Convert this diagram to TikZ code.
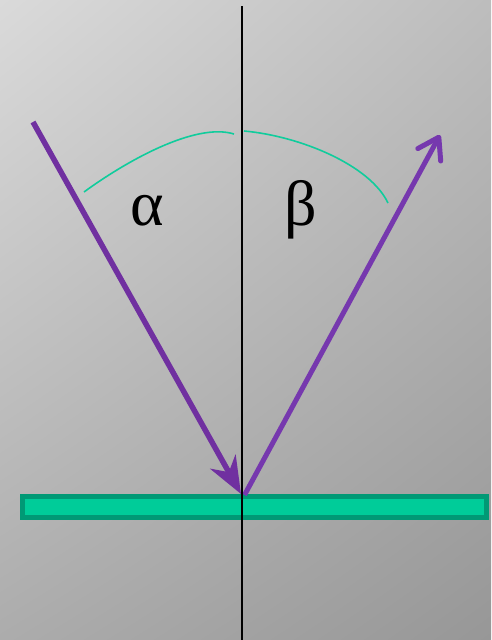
\documentclass[tikz,border=0pt]{standalone}
\usepackage{fontspec}
\setmainfont{Liberation Serif}
\usetikzlibrary{arrows.meta,shadings}
\definecolor{ray}{HTML}{7030A0}
\definecolor{rayb}{HTML}{7638AE}
\definecolor{arcc}{HTML}{10CC9C}
\definecolor{mfill}{HTML}{00CC99}
\definecolor{mdraw}{HTML}{009975}
\definecolor{bgul}{HTML}{DADADA}
\definecolor{bgur}{HTML}{BDBDBD}
\definecolor{bgll}{HTML}{ACACAC}
\definecolor{bglr}{HTML}{979797}
\tikzset{
  incoming/.style={draw=ray, line width=5.5pt, -{Stealth[length=37pt,width=29pt,inset=12pt]}},
  reflected/.style={draw=rayb, line width=5pt, -{Straight Barb[length=20pt,width=26pt,round]}},
  anglearc/.style={draw=arcc, line width=1.6pt},
  mirror/.style={draw=mdraw, fill=mfill, line width=5pt},
  normalline/.style={draw=black, line width=2pt},
  greek/.style={font=\fontsize{64}{64}\selectfont, inner sep=0pt, anchor=base}
}
\begin{document}
\begin{tikzpicture}[x=1pt,y=-1pt]
\useasboundingbox (0,0) rectangle (491,640);
\shade[upper left=bgul, upper right=bgur, lower left=bgll, lower right=bglr] (0,0) rectangle (491,640);
\coordinate (top) at (241.5,6);
\coordinate (bot) at (241.5,640);
\coordinate (A) at (33,122);
\coordinate (O) at (241,494);
\coordinate (Ostart) at (244.5,495);
\coordinate (B) at (440,135);
\coordinate (a1) at (84,192);
\coordinate (a2) at (234,134);
\coordinate (b1) at (244,131);
\coordinate (b2) at (388,203);
\draw[mirror] (22,496.5) rectangle (486,517.5);
\draw[anglearc] (a1) .. controls (125,162) and (195,122) .. (a2);
\draw[anglearc] (b1) .. controls (300,136) and (370,165) .. (b2);
\draw[reflected] (Ostart) -- (B);
\draw[incoming] (A) -- (O);
\draw[normalline] (top) -- (bot);
\node[greek] (alpha) at (147.5,225) {α};
\node[greek] (beta) at (300.5,225) {β};
\end{tikzpicture}
\end{document}
